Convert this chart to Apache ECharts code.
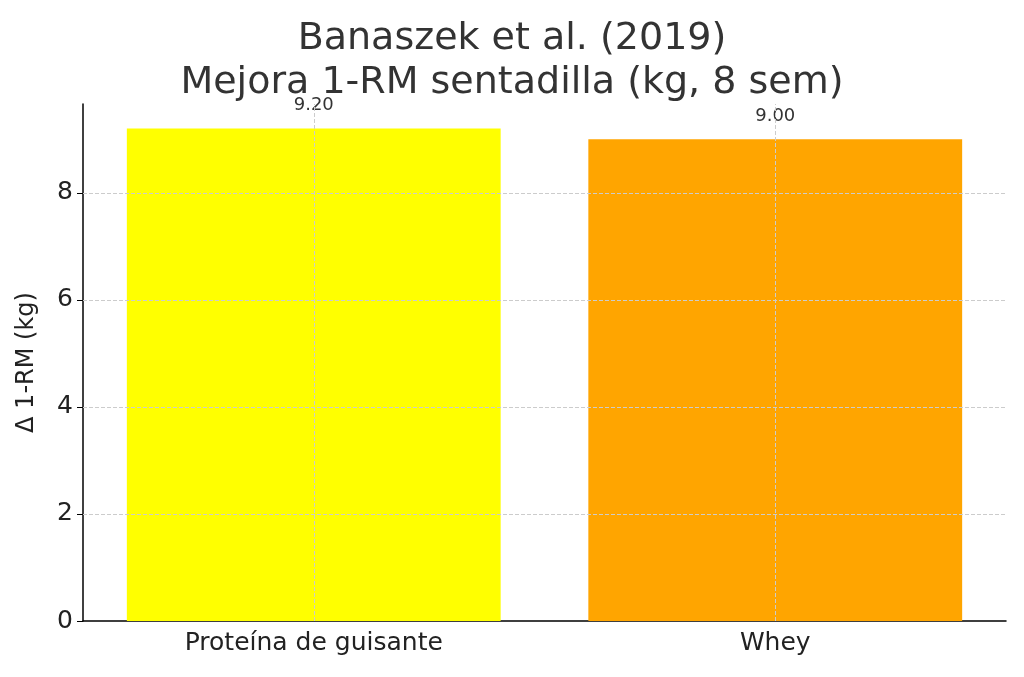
<!DOCTYPE html>
<html><head><meta charset="utf-8">
<script src="https://cdn.jsdelivr.net/npm/echarts@6/dist/echarts.min.js"></script>
<style>html,body{margin:0;padding:0;background:#fff}#c{width:1024px;height:677px}</style>
</head><body><div id="c"></div>
<script>
const categories = ["Proteína de guisante", "Whey"];
const values = [9.2, 9.0];
const colors = ["#ffff00", "#ffa500"];
const yTicks = [2, 4, 6, 8];
const titleLines = ["Banaszek et al. (2019)", "Mejora 1-RM sentadilla (kg, 8 sem)"];

const chart = echarts.init(document.getElementById('c'));
chart.setOption({
  animation: false,
  textStyle: { fontFamily: 'DejaVu Sans' },
  title: {
    text: titleLines.join('\n'), left: 'center', top: 12,
    textStyle: { fontSize: 38, fontWeight: 'normal', color: '#333', lineHeight: 44, fontFamily: 'DejaVu Sans' }
  },
  grid: { left: 83, right: 18, top: 104, bottom: 56, containLabel: false },
  xAxis: {
    type: 'category', data: categories,
    axisLine: { lineStyle: { color: '#000', width: 1.5 } },
    axisTick: { alignWithLabel: true, length: 6, lineStyle: { color: '#000' } },
    axisLabel: { fontSize: 25, color: '#222', margin: 10 },
    splitLine: { show: false }
  },
  yAxis: {
    type: 'value', min: 0, max: 9.66, interval: 2,
    name: 'Δ 1-RM (kg)', nameLocation: 'middle', nameGap: 44,
    nameTextStyle: { fontSize: 24, color: '#222' },
    axisLine: { show: true, lineStyle: { color: '#000', width: 1.5 } },
    axisTick: { show: true, length: 6, lineStyle: { color: '#000' } },
    axisLabel: { fontSize: 25, color: '#222', margin: 10, showMaxLabel: false },
    splitLine: { show: false }
  },
  series: [{
    type: 'bar', barCategoryGap: '19%',
    data: values.map((v, i) => ({ value: v, itemStyle: { color: colors[i] } })),
    label: { show: true, position: 'top', distance: 14, fontSize: 18, color: '#333', formatter: p => p.value.toFixed(2) },
    markLine: {
      symbol: 'none', silent: true, label: { show: false }, z: 5,
      lineStyle: { type: 'dashed', color: '#ccc', width: 1 },
      data: categories.map(c => ({ xAxis: c })).concat(yTicks.map(t => ({ yAxis: t })))
    }
  }]
});
</script></body></html>
